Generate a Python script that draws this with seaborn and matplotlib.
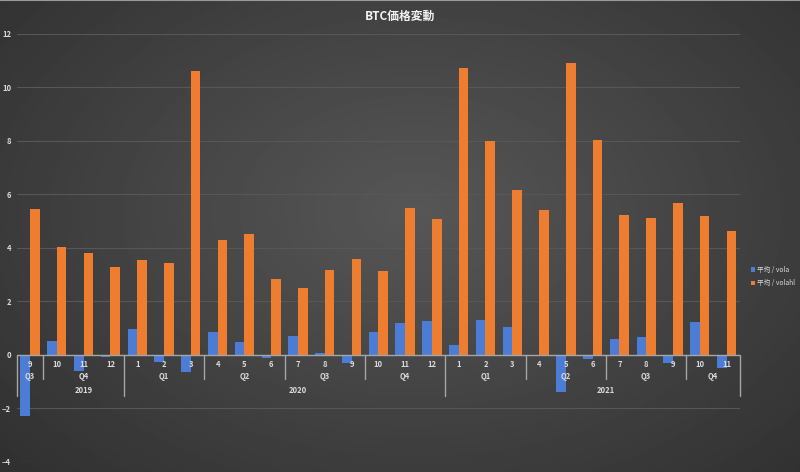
import numpy as np
import pandas as pd
import matplotlib
matplotlib.use("Agg")
import matplotlib.pyplot as plt
import seaborn as sns

# ---- data ----
years = ["2019"] * 4 + ["2020"] * 12 + ["2021"] * 11
months = [9, 10, 11, 12] + list(range(1, 13)) + list(range(1, 12))
vola = [-2.28, 0.52, -0.60, -0.08,
        0.97, -0.25, -0.65, 0.85, 0.48, -0.12, 0.70, 0.08, -0.30, 0.85, 1.20, 1.27,
        0.37, 1.30, 1.05, -0.05, -1.40, -0.15, 0.60, 0.67, -0.30, 1.23, -0.48]
volahl = [5.45, 4.05, 3.80, 3.30,
          3.55, 3.45, 10.60, 4.30, 4.52, 2.85, 2.50, 3.17, 3.58, 3.13, 5.48, 5.10,
          10.72, 7.98, 6.15, 5.43, 10.92, 8.03, 5.23, 5.13, 5.68, 5.21, 4.62]
series_names = ["平均 / vola", "平均 / volahl"]
title = "BTC価格変動"

quarters = ["Q%d" % ((m - 1) // 3 + 1) for m in months]
keys = [f"{y}-{m}" for y, m in zip(years, months)]

df = pd.DataFrame({
    "key": keys * 2,
    "series": [series_names[0]] * len(keys) + [series_names[1]] * len(keys),
    "value": vola + volahl,
})

# ---- style ----
sns.set_theme(style="dark")
plt.rcParams["font.family"] = ["Noto Sans CJK JP", "DejaVu Sans"]

fig = plt.figure(figsize=(8, 4.72), dpi=100)

# gradient background
bg = fig.add_axes([0, 0, 1, 1], zorder=-10)
yy, xx = np.mgrid[0:1:300j, 0:1:500j]
r = np.sqrt(((xx - 0.52) / 0.75) ** 2 + ((yy - 0.45) / 0.85) ** 2)
img = 0.34 - 0.16 * np.clip(r, 0, 1.2)
bg.imshow(img, cmap="gray", vmin=0, vmax=1, aspect="auto", extent=[0, 1, 0, 1])
bg.axis("off")
bg.plot([0, 1], [0.999, 0.999], color="#9a9a9a", lw=1.5, transform=bg.transAxes)

ax = fig.add_axes([0.0208, 0.0212, 0.9042, 0.907])
ax.patch.set_alpha(0)

palette = {series_names[0]: "#4B7DD6", series_names[1]: "#EF7D30"}
sns.barplot(data=df, x="key", y="value", hue="series", order=keys,
            palette=palette, width=0.72, ax=ax, saturation=1, legend=True,
            linewidth=0, edgecolor="none")

ax.set_ylim(-4, 12)
ax.set_xlim(-0.5, len(keys) - 0.5)
ax.set_yticks(np.arange(-4, 13, 2))
ax.yaxis.grid(True, color="#575757", lw=0.8)
ax.set_axisbelow(True)
ax.set_xticks([])
ax.set_xlabel("")
ax.set_ylabel("")
for s in ax.spines.values():
    s.set_visible(False)
ax.tick_params(axis="y", colors="#d9d9d9", labelsize=5.5, length=0, pad=4)
for lbl in ax.get_yticklabels():
    lbl.set_fontweight("bold")

# zero axis line
ax.axhline(0, color="#a6a6a6", lw=1.0, zorder=3)

lab_col = "#d9d9d9"
y_month, y_q, y_year = -0.34, -0.82, -1.31
n = len(keys)
for i, m in enumerate(months):
    ax.text(i, y_month, str(m), ha="center", va="center", fontsize=5.5,
            color=lab_col, fontweight="bold", zorder=5)

# quarter groups
groups = []
start = 0
for i in range(1, n + 1):
    if i == n or (years[i], quarters[i]) != (years[start], quarters[start]):
        groups.append((start, i - 1, quarters[start]))
        start = i
for s, e, q in groups:
    ax.text((s + e) / 2, y_q, q, ha="center", va="center", fontsize=5.5,
            color=lab_col, fontweight="bold", zorder=5)

# year groups
ygroups = []
start = 0
for i in range(1, n + 1):
    if i == n or years[i] != years[start]:
        ygroups.append((start, i - 1, years[start]))
        start = i
for s, e, yv in ygroups:
    ax.text((s + e) / 2 + 0.5, y_year, yv, ha="center", va="center", fontsize=5.5,
            color=lab_col, fontweight="bold", zorder=5)

# separators
year_bounds = set([s - 0.5 for s, e, _ in ygroups] + [n - 0.5])
q_bounds = set([s - 0.5 for s, e, _ in groups]) - year_bounds
for b in q_bounds:
    ax.plot([b, b], [0, -0.88], color="#a6a6a6", lw=1.0, zorder=3, clip_on=False)
for b in year_bounds:
    ax.plot([b, b], [0, -1.52], color="#a6a6a6", lw=1.0, zorder=3, clip_on=False)

# title
fig.text(0.5, 0.965, title, ha="center", va="center", fontsize=8.5,
         fontweight="bold", color="#f2f2f2")

# legend
leg = ax.legend(loc="center left", bbox_to_anchor=(0.936, 0.414),
                bbox_transform=fig.transFigure, frameon=False, fontsize=4.8,
                handlelength=0.5, handleheight=0.6, handletextpad=0.3,
                labelspacing=0.8, borderaxespad=0)
for t in leg.get_texts():
    t.set_color(lab_col)

fig.savefig("out.png", dpi=100)
